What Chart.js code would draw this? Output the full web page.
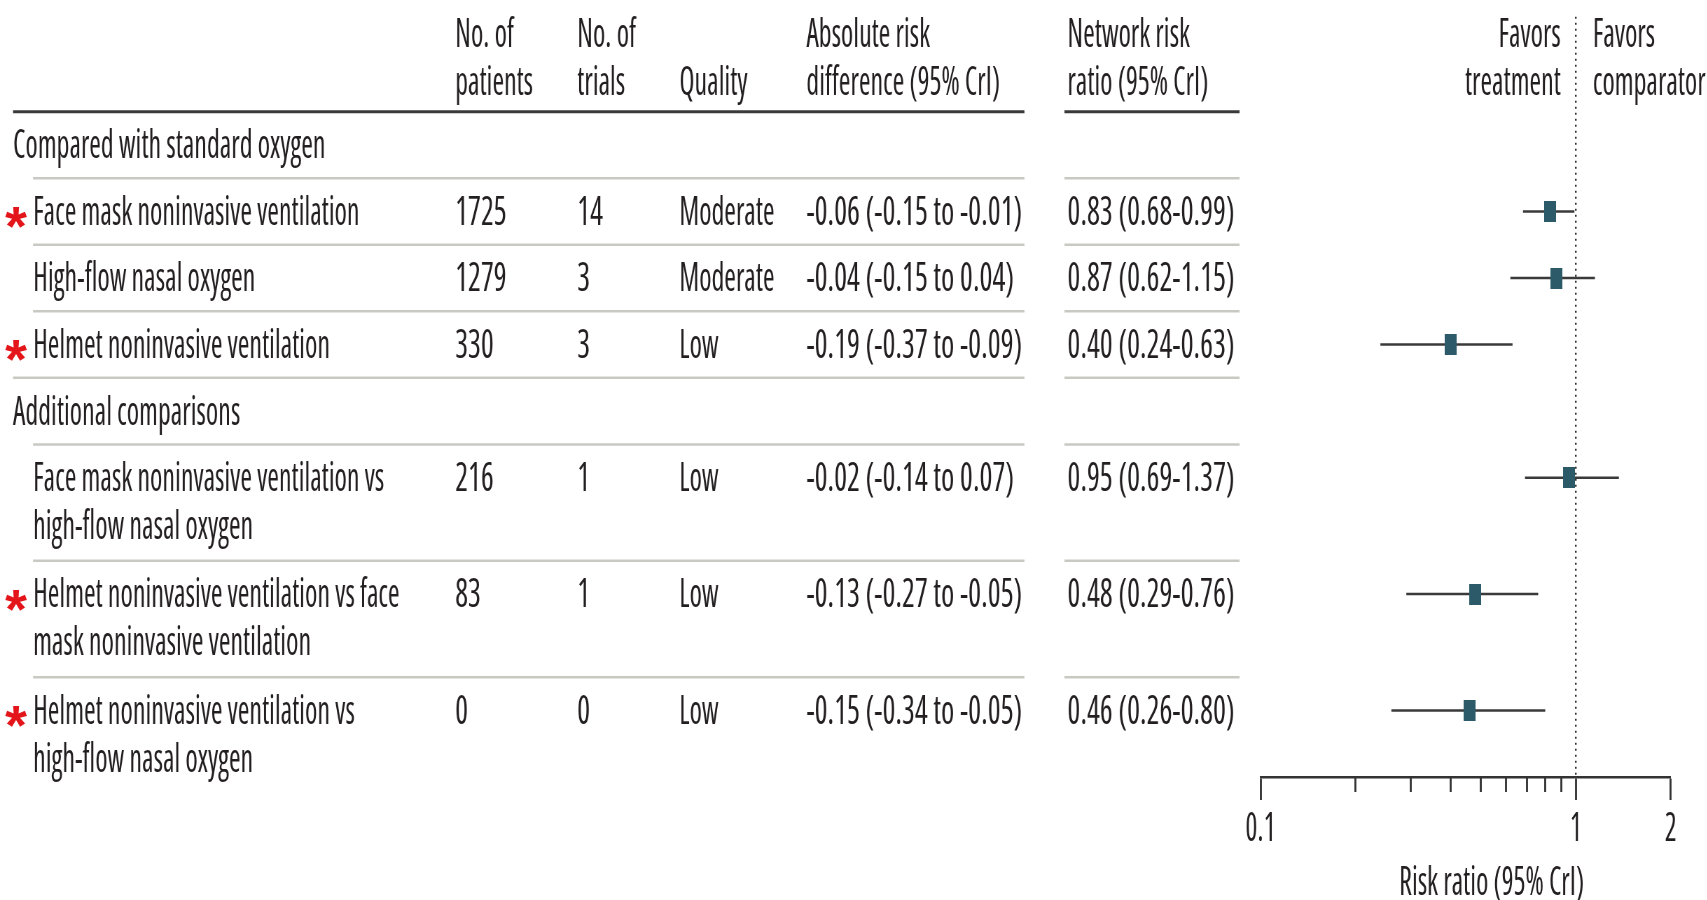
<!DOCTYPE html>
<html>
<head>
<meta charset="utf-8">
<script src="https://cdn.jsdelivr.net/npm/chart.js@4.4.1/dist/chart.umd.min.js"></script>
<style>
	html, body { margin: 0; padding: 0; background: #fff; overflow: hidden; }
	#wrap { position: absolute; left: 0; top: 0; height: 900px; transform-origin: 0 0; }
</style>
</head>
<body>
<div id="wrap"><canvas id="forest"></canvas></div>
<script>
// ---- data -------------------------------------------------------------
const groups = ['Compared with standard oxygen', 'Additional comparisons'];
const comparisons = [
	'Face mask noninvasive ventilation',
	'High-flow nasal oxygen',
	'Helmet noninvasive ventilation',
	'Face mask noninvasive ventilation vs\nhigh-flow nasal oxygen',
	'Helmet noninvasive ventilation vs face\nmask noninvasive ventilation',
	'Helmet noninvasive ventilation vs\nhigh-flow nasal oxygen'
];
const groupOf = [0, 0, 0, 1, 1, 1];
const starred = [true, false, true, false, true, true];
const patients = ['1725', '1279', '330', '216', '83', '0'];
const trials = ['14', '3', '3', '1', '1', '0'];
const quality = ['Moderate', 'Moderate', 'Low', 'Low', 'Low', 'Low'];
const absDiff = [
	'-0.06 (-0.15 to -0.01)',
	'-0.04 (-0.15 to 0.04)',
	'-0.19 (-0.37 to -0.09)',
	'-0.02 (-0.14 to 0.07)',
	'-0.13 (-0.27 to -0.05)',
	'-0.15 (-0.34 to -0.05)'
];
const riskRatio = [0.83, 0.87, 0.40, 0.95, 0.48, 0.46];
const crLow = [0.68, 0.62, 0.24, 0.69, 0.29, 0.26];
const crHigh = [0.99, 1.15, 0.63, 1.37, 0.76, 0.80];
const majorTicks = [0.1, 1, 2];
const minorTicks = [0.2, 0.3, 0.4, 0.5, 0.6, 0.7, 0.8, 0.9];

// ---- look -------------------------------------------------------------
const SQUEEZE = 0.70;           // the figure is drawn wide, then narrowed
const FAMILY = "'Open Sans', 'Liberation Sans Narrow', sans-serif";
const FONT_SIZE = 40;
const FONT = '500 condensed ' + FONT_SIZE + 'px ' + FAMILY;
const NUM_STRETCH = 1.08;       // digits run a little wider in the original
const TEXT_DY = 2;
const INK = '#231f20';
const RULE = '#c9c9c4';
const TEAL = '#2c5a69';
const AXIS_END = 11.5;

const px = v => v / SQUEEZE;    // page px -> canvas px (horizontal)

// vertical layout in row units
const rows = [];
const groupRows = [];
(function () {
	let pos = 2, last = -1;
	comparisons.forEach((label, i) => {
		if (groupOf[i] !== last) {
			groupRows.push({ text: groups[groupOf[i]], y: pos, first: last < 0 });
			pos += 1;
			last = groupOf[i];
		}
		const lines = label.split('\n');
		rows.push({ lines: lines, y: pos });
		pos += 1 + (lines.length - 1) * 0.75;
	});
})();

const headers = [
	{ x: 455, lines: ['No. of', 'patients'] },
	{ x: 577, lines: ['No. of', 'trials'] },
	{ x: 679, lines: ['', 'Quality'] },
	{ x: 806, lines: ['Absolute risk', 'difference (95% CrI)'] },
	{ x: 1067, lines: ['Network risk', 'ratio (95% CrI)'] }
];
const headerY = [0.32, 1.05];
const lineGap = 0.72;

const wrap = document.getElementById('wrap');
wrap.style.width = px(1707) + 'px';
wrap.style.transform = 'scaleX(' + SQUEEZE + ')';

function markerImage() {
	const c = document.createElement('canvas');
	c.width = Math.round(px(12));
	c.height = 21;
	const g = c.getContext('2d');
	g.fillStyle = TEAL;
	g.fillRect(0, 0, c.width, c.height);
	return c;
}

const tablePlugin = {
	id: 'table',
	afterDraw(chart) {
		const ctx = chart.ctx;
		const y = chart.scales.y;
		const x = chart.scales.x;
		const Y = v => y.getPixelForValue(v);
		const T = v => Y(v) + TEXT_DY;
		const put = (str, cx, cy, stretch) => {
			ctx.save();
			ctx.translate(cx, cy);
			ctx.scale(stretch || 1, 1);
			ctx.fillText(str, 0, 0);
			ctx.restore();
		};
		ctx.save();
		ctx.fillStyle = INK;
		ctx.textBaseline = 'middle';
		ctx.textAlign = 'left';
		ctx.font = FONT;

		headers.forEach(h => {
			h.lines.forEach((t, k) => put(t, px(h.x), T(headerY[k])));
		});

		// rules
		const rule = (yv, from, color, w) => {
			ctx.strokeStyle = color;
			ctx.lineWidth = w;
			ctx.beginPath();
			ctx.moveTo(px(from), Y(yv));
			ctx.lineTo(px(1024), Y(yv));
			ctx.moveTo(px(1064), Y(yv));
			ctx.lineTo(px(1239), Y(yv));
			ctx.stroke();
		};
		groupRows.forEach(g => {
			rule(g.y - 0.5, 13, g.first ? '#3a3a3a' : RULE, g.first ? 3 : 2.5);
			put(g.text, px(13), T(g.y));
		});
		rows.forEach((r, i) => {
			rule(r.y - 0.5, 33, RULE, 2.5);
			r.lines.forEach((t, k) => put(t, px(33), T(r.y + k * lineGap)));
			put(patients[i], px(455), T(r.y), NUM_STRETCH);
			put(trials[i], px(577), T(r.y), NUM_STRETCH);
			put(quality[i], px(679), T(r.y));
			put(absDiff[i], px(806), T(r.y), NUM_STRETCH);
			put(riskRatio[i].toFixed(2) + ' (' + crLow[i].toFixed(2) + '-' + crHigh[i].toFixed(2) + ')', px(1067), T(r.y), NUM_STRETCH);
			if (starred[i]) {
				ctx.save();
				ctx.fillStyle = '#e3151b';
				ctx.font = "bold 56px 'Liberation Sans'";
				ctx.textAlign = 'center';
				ctx.translate(px(16), Y(r.y) + 18);
				ctx.scale(1 / SQUEEZE, 1);
				ctx.fillText('*', 0, 0);
				ctx.restore();
			}
		});

		// favors labels either side of the line of no effect
		const one = x.getPixelForValue(1);
		ctx.textAlign = 'right';
		put('Favors', one - px(15), T(headerY[0]));
		put('treatment', one - px(15), T(headerY[1]));
		ctx.textAlign = 'left';
		put('Favors', one + px(17), T(headerY[0]));
		put('comparator', one + px(17), T(headerY[1]));

		// axis title
		ctx.textAlign = 'center';
		put('Risk ratio (95% CrI)', px(1491), 884);
		ctx.restore();
	}
};

const datasets = [{
	label: 'Risk ratio',
	data: riskRatio.map((v, i) => ({ x: v, y: rows[i].y })),
	pointStyle: markerImage(),
	order: 0
}];
riskRatio.forEach((v, i) => {
	datasets.push({
		label: 'CrI ' + (i + 1),
		data: [{ x: crLow[i], y: rows[i].y }, { x: crHigh[i], y: rows[i].y }],
		showLine: true,
		borderColor: '#3a3a3a',
		borderWidth: 2.5,
		pointRadius: 0,
		order: 1
	});
});
datasets.push({
	label: 'No effect',
	data: [{ x: 1, y: 0.07 }, { x: 1, y: AXIS_END }],
	showLine: true,
	borderColor: '#333',
	borderWidth: 2.4,
	borderDash: [2, 4],
	pointRadius: 0,
	order: 2
});

new Chart(document.getElementById('forest').getContext('2d'), {
	type: 'scatter',
	data: { datasets: datasets },
	options: {
		responsive: true,
		maintainAspectRatio: false,
		animation: false,
		devicePixelRatio: 1,
		layout: { padding: { left: px(1260), right: px(37), top: 12, bottom: 0 } },
		plugins: { legend: { display: false }, tooltip: { enabled: false } },
		scales: {
			x: {
				type: 'logarithmic',
				min: 0.1,
				max: 2,
				position: 'bottom',
				border: { display: true, color: '#333', width: 2.5 },
				grid: { display: true, drawOnChartArea: false, drawTicks: true, tickLength: 23, tickWidth: 2 / SQUEEZE, tickColor: '#333' },
				ticks: {
					font: { family: FAMILY, size: FONT_SIZE, weight: '500 condensed' },
					color: INK,
					padding: 6,
					maxRotation: 0,
					autoSkip: false,
					callback: v => String(v)
				},
				afterBuildTicks: s => { s.ticks = majorTicks.map(v => ({ value: v })); },
				afterFit: s => { s.height = 123; }
			},
			xm: {
				axis: 'x',
				type: 'logarithmic',
				min: 0.1,
				max: 2,
				position: { y: AXIS_END },
				border: { display: false },
				grid: { display: true, drawOnChartArea: false, drawTicks: true, tickLength: 15, tickWidth: 2 / SQUEEZE, tickColor: '#333' },
				ticks: { display: false },
				afterBuildTicks: s => { s.ticks = minorTicks.map(v => ({ value: v })); }
			},
			y: { type: 'linear', reverse: true, min: 0, max: AXIS_END, display: false }
		}
	},
	plugins: [tablePlugin]
});
</script>
</body>
</html>
